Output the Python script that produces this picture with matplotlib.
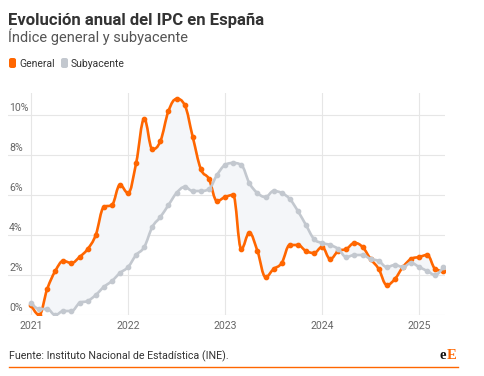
import numpy as np
import matplotlib
matplotlib.use('Agg')
import matplotlib.pyplot as plt
from matplotlib.path import Path
from matplotlib.patches import PathPatch, FancyBboxPatch
from matplotlib import transforms
from matplotlib.lines import Line2D

plt.rcParams['font.family'] = ['Roboto', 'DejaVu Sans']

# datos: variacion anual del IPC (%), enero 2021 - abril 2025
general = [0.5, 0.0, 1.3, 2.2, 2.7, 2.6, 2.9, 3.3, 4.0, 5.4, 5.5, 6.5,
           6.1, 7.6, 9.8, 8.3, 8.7, 10.2, 10.8, 10.5, 8.9, 7.3, 6.8, 5.7,
           5.9, 6.0, 3.3, 4.1, 3.2, 1.9, 2.3, 2.6, 3.5, 3.5, 3.2, 3.1,
           3.4, 2.8, 3.2, 3.3, 3.6, 3.4, 2.8, 2.3, 1.5, 1.8, 2.4, 2.8,
           2.9, 3.0, 2.3, 2.2]
subyacente = [0.6, 0.3, 0.3, 0.0, 0.2, 0.2, 0.6, 0.7, 1.0, 1.4, 1.7, 2.1,
              2.4, 3.0, 3.4, 4.4, 4.9, 5.5, 6.1, 6.4, 6.2, 6.2, 6.3, 7.0,
              7.5, 7.6, 7.5, 6.6, 6.1, 5.9, 6.2, 6.1, 5.8, 5.2, 4.5, 3.8,
              3.6, 3.5, 3.3, 2.9, 3.0, 3.0, 2.8, 2.7, 2.4, 2.5, 2.4, 2.6,
              2.4, 2.2, 2.0, 2.4]
years = [2021, 2022, 2023, 2024, 2025]
yticks = [0, 2, 4, 6, 8, 10]

NARANJA = '#ff6600'
GRIS = '#c3c8cf'

meses = np.arange(len(general))


def spline(xs, ys, smoothing=1.5):
    # curva tipo "spline" (bezier cubica entre puntos consecutivos)
    n = len(xs)
    left = [(xs[0], ys[0])] * n
    right = [(xs[0], ys[0])] * n
    for i in range(n):
        x, y = xs[i], ys[i]
        if i == 0 or i == n - 1:
            left[i] = (x, y)
            right[i] = (x, y)
            continue
        lx, ly = xs[i - 1], ys[i - 1]
        nx, ny = xs[i + 1], ys[i + 1]
        d = smoothing + 1
        lcx = (smoothing * x + lx) / d
        lcy = (smoothing * y + ly) / d
        rcx = (smoothing * x + nx) / d
        rcy = (smoothing * y + ny) / d
        corr = (rcy - lcy) * (rcx - x) / (rcx - lcx) + y - rcy
        lcy += corr
        rcy += corr
        if lcy > ly and lcy > y:
            lcy = max(ly, y); rcy = 2 * y - lcy
        elif lcy < ly and lcy < y:
            lcy = min(ly, y); rcy = 2 * y - lcy
        if rcy > ny and rcy > y:
            rcy = max(ny, y); lcy = 2 * y - rcy
        elif rcy < ny and rcy < y:
            rcy = min(ny, y); lcy = 2 * y - rcy
        left[i] = (lcx, lcy)
        right[i] = (rcx, rcy)
    verts = [(xs[0], ys[0])]
    for i in range(1, n):
        verts += [right[i - 1], left[i], (xs[i], ys[i])]
    return verts


fig = plt.figure(figsize=(4.84, 3.76), dpi=100)
W, H = 484, 376
ax = fig.add_axes([8 / W, (H - 315) / H, (445 - 8) / W, (315 - 93) / H])

ax.set_xlim(-2.85, 51.2)
ax.set_ylim(0, 11.1)

vg = spline(meses, general)
vs = spline(meses, subyacente)

# relleno entre las dos series
relleno = vg + [vs[-1]] + vs[::-1][1:]
codes = [Path.MOVETO] + [Path.CURVE4] * (len(vg) - 1) + [Path.LINETO] + \
        [Path.CURVE4] * (len(vs) - 1) + [Path.CLOSEPOLY]
relleno = relleno + [vg[0]]
ax.add_patch(PathPatch(Path(relleno, codes), facecolor='#f4f6f9',
                       edgecolor='none', zorder=1))

for verts, color, z in [(vg, NARANJA, 3), (vs, GRIS, 4)]:
    c = [Path.MOVETO] + [Path.CURVE4] * (len(verts) - 1)
    ax.add_patch(PathPatch(Path(verts, c), facecolor='none', edgecolor=color,
                           lw=1.9, capstyle='round', joinstyle='round', zorder=z))
ax.plot(meses, general, 'o', color=NARANJA, ms=3.1, zorder=3)
ax.plot(meses, subyacente, 'o', color=GRIS, ms=3.1, zorder=4)

# ejes y rejilla
ax.set_xticks([(y - 2021) * 12 for y in years])
ax.set_xticklabels([str(y) for y in years])
ax.set_yticks(yticks)
ax.set_yticklabels([])
ax.grid(True, color='#e6e6e6', lw=0.8, zorder=0)
ax.set_axisbelow(True)
ax.tick_params(length=0, labelsize=7.6, labelcolor='#666666', pad=4)
for s in ax.spines.values():
    s.set_visible(False)

trans = transforms.blended_transform_factory(ax.transAxes, ax.transData)
trans = transforms.offset_copy(trans, fig=fig, x=1, y=2, units='dots')
for v in yticks:
    ax.text(0, v, f'{v}%', transform=trans, ha='left', va='bottom',
            fontsize=7.6, color='#666666')

# textos
fig.text(8 / W, 1 - 24.5 / H, 'Evolución anual del IPC en España',
         fontsize=12, fontweight='bold', color='#333333', va='baseline')
fig.text(8 / W, 1 - 41.8 / H, 'Índice general y subyacente',
         fontsize=10.5, color='#555555', va='baseline')

for x0, col, txt in [(9, NARANJA, 'General'), (61, GRIS, 'Subyacente')]:
    fig.patches.append(FancyBboxPatch((x0 / W, 1 - 68 / H), 7 / W, 10 / H,
                                      boxstyle='round,pad=0,rounding_size=0.005',
                                      transform=fig.transFigure,
                                      facecolor=col, edgecolor='none'))
    fig.text((x0 + 10) / W, 1 - 66.8 / H, txt, fontsize=7.5,
             color='#333333', va='baseline')

fig.text(9 / W, 1 - 359 / H, 'Fuente: Instituto Nacional de Estadística (INE).',
         fontsize=7.7, color='#333333', va='baseline')
fig.text(440 / W, 1 - 359 / H, 'e', fontsize=10.5, fontweight='bold',
         family='Liberation Serif', color='#111111', va='baseline')
fig.text(447 / W, 1 - 359 / H, 'E', fontsize=10.5, fontweight='bold',
         family='Liberation Serif', color=NARANJA, va='baseline')
fig.lines.append(Line2D([9 / W, 458 / W], [1 - 367 / H, 1 - 367 / H],
                        transform=fig.transFigure, color=NARANJA, lw=1))

fig.savefig('out.png', dpi=100)
